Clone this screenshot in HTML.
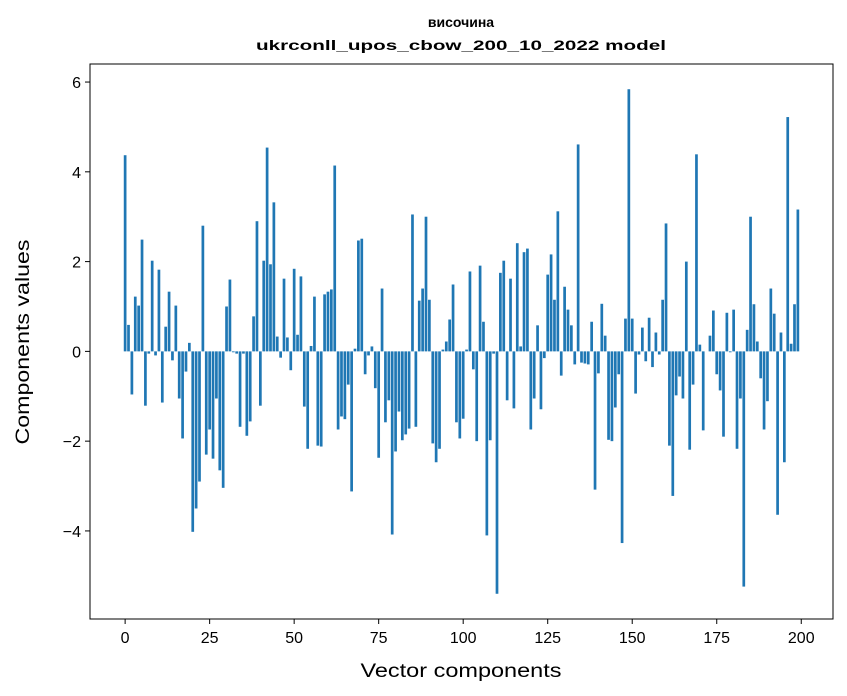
<!DOCTYPE html>
<html><head><meta charset="utf-8"><style>
body{margin:0;background:#fff;}
svg{display:block;font-family:"Liberation Sans","DejaVu Sans",sans-serif;}
</style></head><body>
<svg id="chart" width="847" height="696">
<rect x="0" y="0" width="847" height="696" fill="#fff"/>
<text x="461" y="27" text-anchor="middle" font-size="14" font-weight="bold">височина</text>
<text x="461" y="50" text-anchor="middle" font-size="14" font-weight="bold" textLength="410" lengthAdjust="spacingAndGlyphs">ukrconll_upos_cbow_200_10_2022 model</text>
<g id="bars"></g>
<g id="xticks"></g>
<g id="yticks"></g>
<rect x="90" y="64" width="743" height="555" fill="none" stroke="#000" stroke-width="1"/>
<text x="461" y="677" text-anchor="middle" font-size="19" textLength="201" lengthAdjust="spacingAndGlyphs">Vector components</text>
<text transform="translate(29,342) rotate(-90)" text-anchor="middle" font-size="19" textLength="205" lengthAdjust="spacingAndGlyphs">Components values</text>
</svg>
<script>
const values = [4.37,0.59,-0.96,1.22,1.02,2.49,-1.21,-0.05,2.02,-0.09,
1.82,-1.14,0.55,1.33,-0.2,1.02,-1.05,-1.94,-0.45,0.19,
-4.02,-3.5,-2.9,2.8,-2.3,-1.74,-2.39,-1.05,-2.65,-3.04,
1.0,1.6,-0.02,-0.05,-1.68,-0.05,-1.88,-1.56,0.78,2.9,
-1.21,2.02,4.54,1.94,3.32,0.33,-0.14,1.62,0.31,-0.42,
1.84,0.37,1.67,-1.23,-2.17,0.12,1.22,-2.1,-2.12,1.27,
1.33,1.38,4.14,-1.74,-1.45,-1.51,-0.74,-3.12,0.06,2.47,
2.51,-0.51,-0.09,0.11,-0.82,-2.37,1.4,-1.58,-1.09,-4.08,
-2.23,-1.34,-1.98,-1.85,-1.72,3.05,-1.68,1.13,1.4,3.0,
1.15,-2.05,-2.47,-2.17,0.04,0.22,0.71,1.49,-1.58,-1.94,
-1.5,0.04,1.78,-0.4,-2.0,1.91,0.66,-4.1,-1.98,-0.05,
-5.4,1.75,2.02,-1.09,1.62,-1.27,2.41,0.11,2.21,2.29,
-1.74,-1.05,0.58,-1.29,-0.15,1.71,2.16,1.15,3.12,-0.54,
1.44,0.93,0.58,-0.29,4.61,-0.25,-0.27,-0.29,0.66,-3.08,
-0.49,1.06,0.35,-1.97,-2.0,-1.25,-0.51,-4.27,0.73,5.84,
0.73,-0.94,-0.07,0.53,-0.22,0.75,-0.35,0.42,-0.07,1.15,
2.85,-2.1,-3.22,-0.98,-0.56,-1.05,2.0,-2.19,-0.74,4.39,
0.15,-1.76,0.0,0.35,0.91,-0.51,-0.87,-1.9,0.86,-0.02,
0.93,-2.17,-1.05,-5.24,0.48,3.0,1.05,0.22,-0.6,-1.74,
-1.11,1.4,0.84,-3.64,0.42,-2.47,5.22,0.17,1.05,3.16];
const xTickLabels = [0,25,50,75,100,125,150,175,200];
const yTickLabels = [-4,-2,0,2,4,6];

const PL=90, PR=833, PT=64, PB=619;
const n = values.length;
const xmin=-0.4-0.05*(n-0.2), xmax=(n-1)+0.4+0.05*(n-0.2);
const vmin=Math.min(0,...values), vmax=Math.max(0,...values);
const ymin=vmin-0.05*(vmax-vmin), ymax=vmax+0.05*(vmax-vmin);
const sx=v=>PL+(v-xmin)/(xmax-xmin)*(PR-PL);
const sy=v=>PB-(v-ymin)/(ymax-ymin)*(PB-PT);
const NS="http://www.w3.org/2000/svg";
const bars=document.getElementById('bars');
values.forEach((v,i)=>{
  const r=document.createElementNS(NS,'rect');
  const x0=sx(i-0.4), x1=sx(i+0.4);
  const y0=sy(Math.max(v,0)), y1=sy(Math.min(v,0));
  r.setAttribute('x',x0);r.setAttribute('width',x1-x0);
  r.setAttribute('y',y0);r.setAttribute('height',Math.max(y1-y0,0.01));
  r.setAttribute('fill','#1f77b4');
  
  
  bars.appendChild(r);
});
const xt=document.getElementById('xticks');
xTickLabels.forEach(t=>{
  const x=sx(t);
  const l=document.createElementNS(NS,'line');
  l.setAttribute('x1',x);l.setAttribute('x2',x);l.setAttribute('y1',PB);l.setAttribute('y2',PB+5);
  l.setAttribute('stroke','#000');
  
  
  xt.appendChild(l);
  const tx=document.createElementNS(NS,'text');
  tx.setAttribute('x',x);tx.setAttribute('y',PB+24);tx.setAttribute('text-anchor','middle');tx.setAttribute('font-size','16');
  tx.textContent=t;
  
  
  xt.appendChild(tx);
});
const yt=document.getElementById('yticks');
yTickLabels.forEach(t=>{
  const y=sy(t);
  const l=document.createElementNS(NS,'line');
  l.setAttribute('x1',PL-5);l.setAttribute('x2',PL);l.setAttribute('y1',y);l.setAttribute('y2',y);
  l.setAttribute('stroke','#000');
  
  
  yt.appendChild(l);
  const tx=document.createElementNS(NS,'text');
  tx.setAttribute('x',PL-9);tx.setAttribute('y',y+6);tx.setAttribute('text-anchor','end');tx.setAttribute('font-size','16');
  tx.textContent=t<0?'\u2212'+Math.abs(t):String(t);
  
  
  yt.appendChild(tx);
});
</script>
</body></html>
